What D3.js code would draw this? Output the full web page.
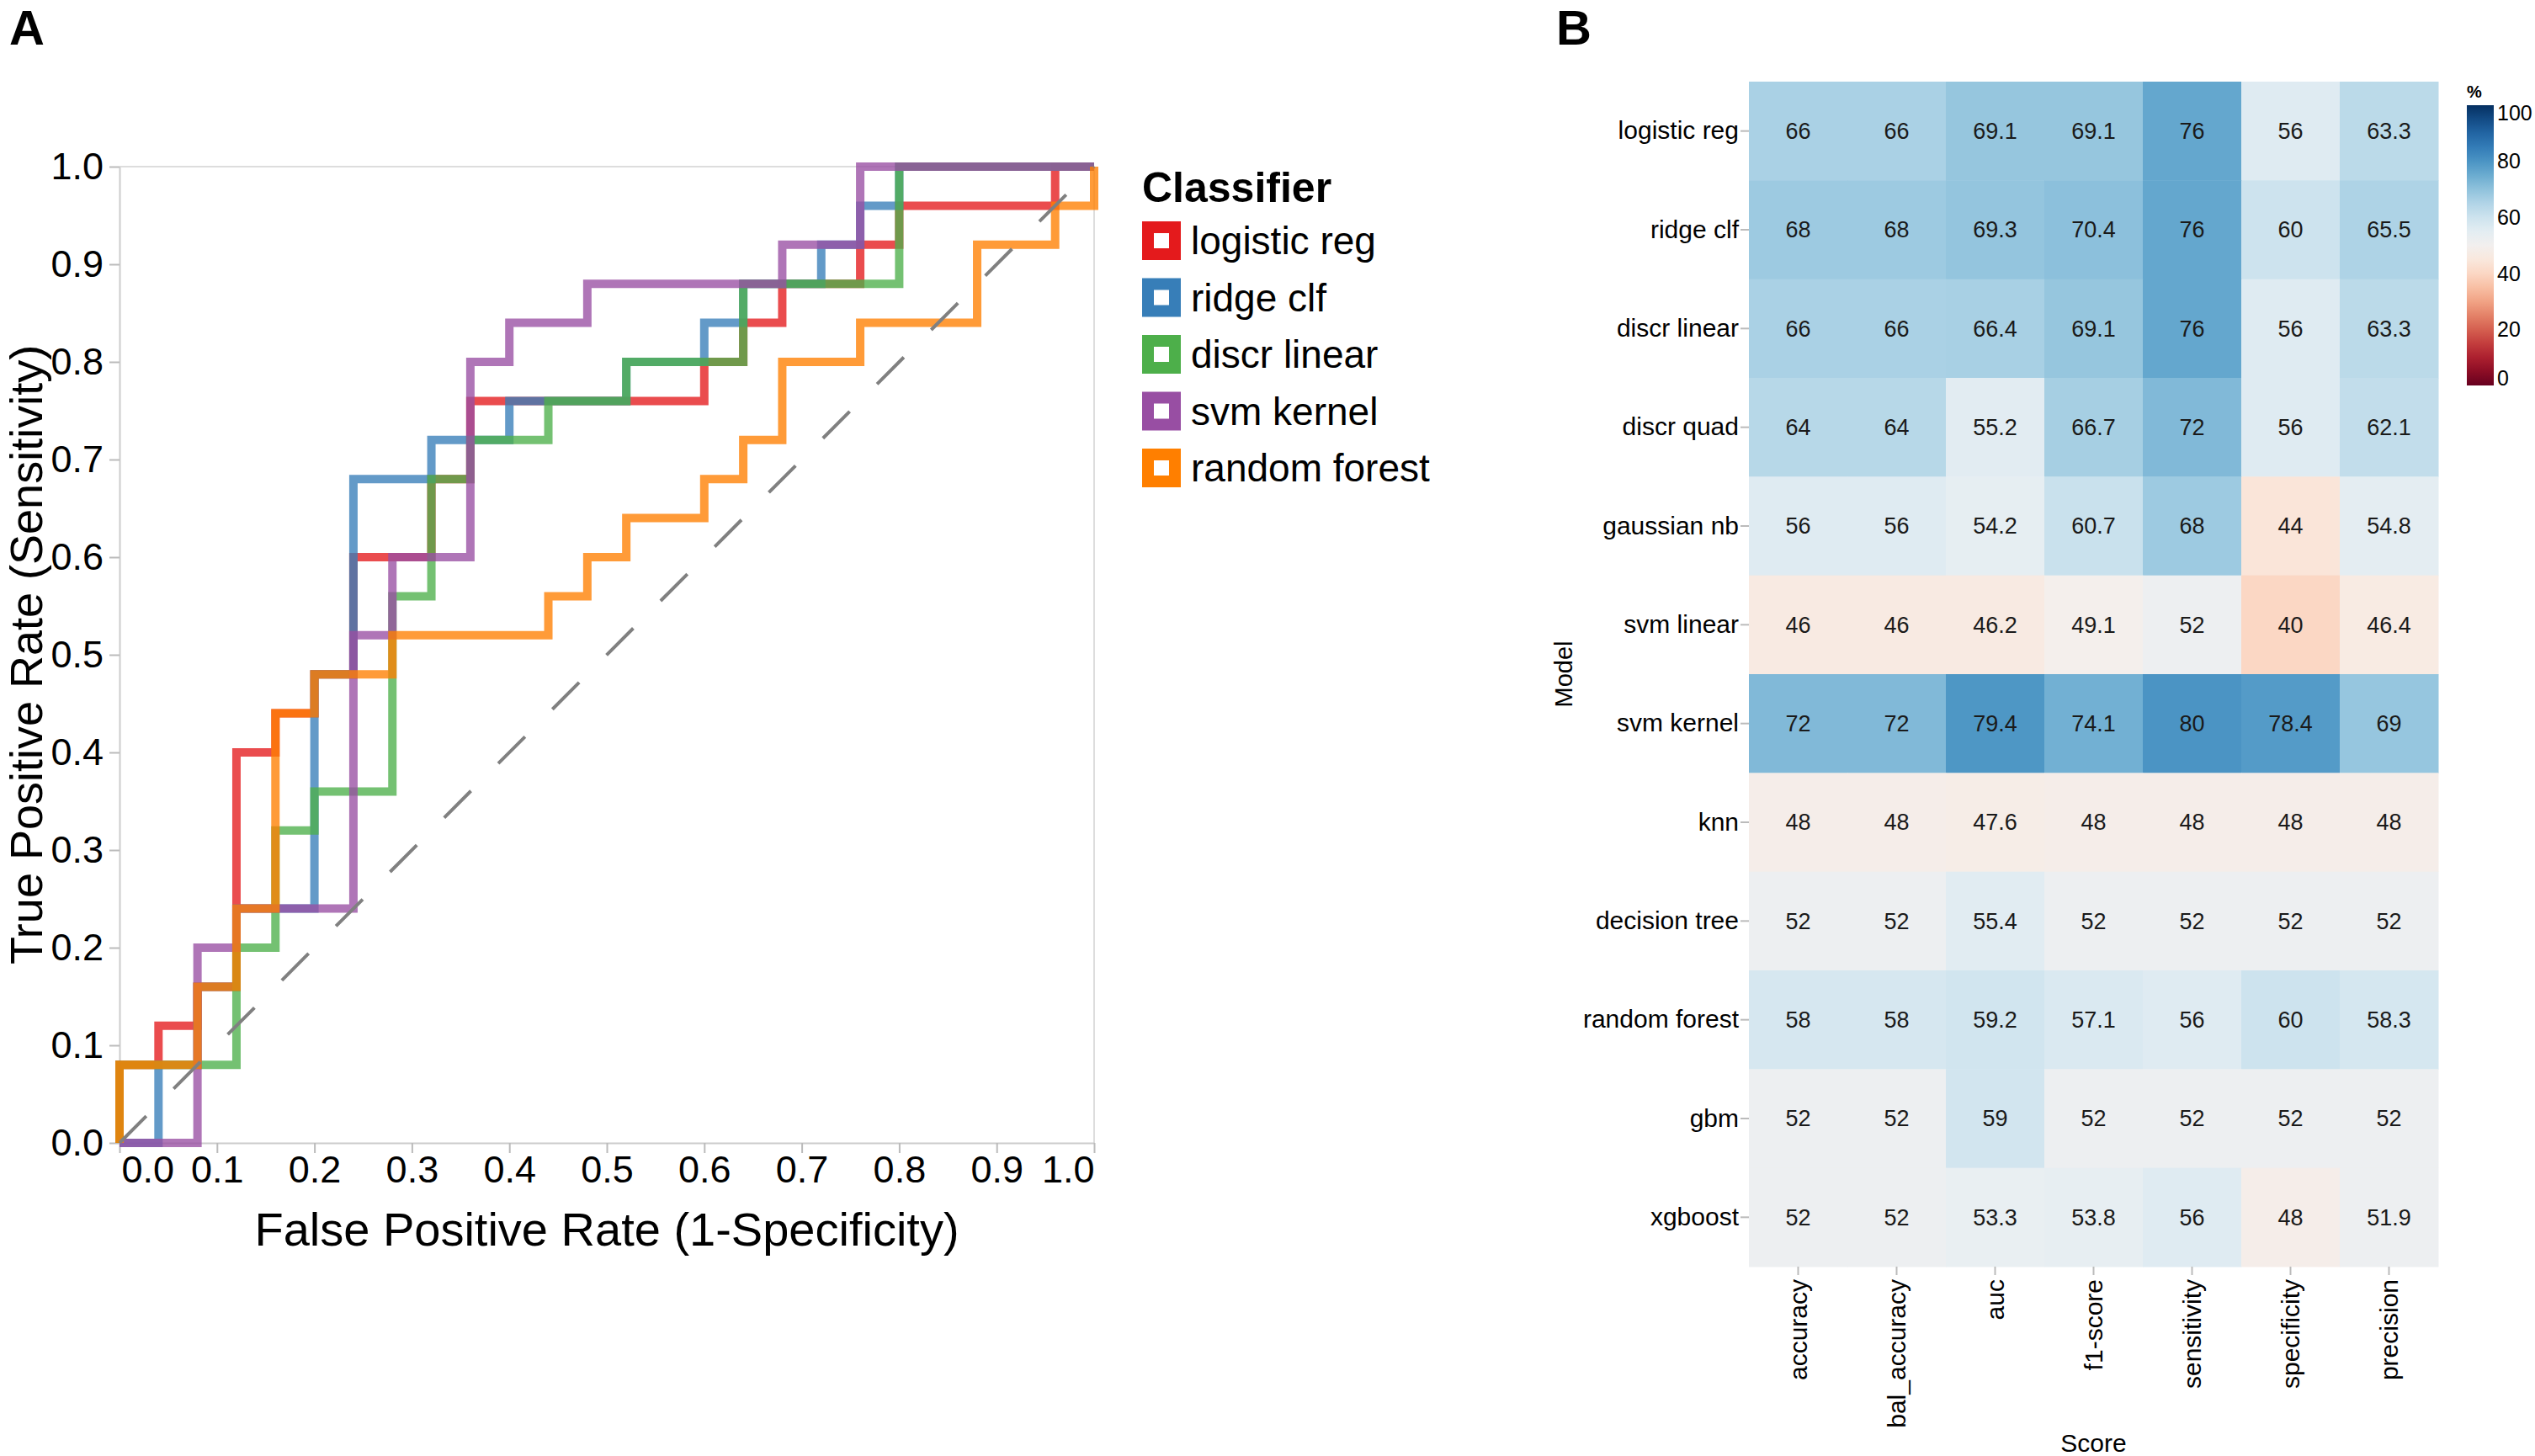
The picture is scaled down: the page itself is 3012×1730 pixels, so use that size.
<!DOCTYPE html>
<html>
<head>
<meta charset="utf-8">
<script src="https://cdn.jsdelivr.net/npm/d3@7"></script>
<style>
  html, body { margin: 0; padding: 0; background: #fff; }
  svg { display: block; font-family: "Liberation Sans", Arial, Helvetica, sans-serif; }
</style>
</head>
<body>
<script>
// ---------------- DATA ----------------
// Panel A: ROC curves (corner points of each step curve)
const classifiers = ["logistic reg", "ridge clf", "discr linear", "svm kernel", "random forest"];
const classifierColors = ["#e41a1c", "#377eb8", "#4daf4a", "#984ea3", "#ff7f00"];

const fprLogisticReg = [0, 0, 0.04, 0.04, 0.08, 0.08, 0.12, 0.12, 0.16, 0.16, 0.20, 0.20, 0.24, 0.24, 0.32, 0.32, 0.36, 0.36, 0.60, 0.60, 0.64, 0.64, 0.68, 0.68, 0.76, 0.76, 0.80, 0.80, 0.96, 0.96, 1.0];
const tprLogisticReg = [0, 0.08, 0.08, 0.12, 0.12, 0.16, 0.16, 0.40, 0.40, 0.44, 0.44, 0.48, 0.48, 0.60, 0.60, 0.68, 0.68, 0.76, 0.76, 0.80, 0.80, 0.84, 0.84, 0.88, 0.88, 0.92, 0.92, 0.96, 0.96, 1.0, 1.0];

const fprRidgeClf = [0, 0.04, 0.04, 0.08, 0.08, 0.12, 0.12, 0.20, 0.20, 0.24, 0.24, 0.32, 0.32, 0.40, 0.40, 0.52, 0.52, 0.60, 0.60, 0.64, 0.64, 0.72, 0.72, 0.76, 0.76, 0.80, 0.80, 1.0];
const tprRidgeClf = [0, 0, 0.08, 0.08, 0.16, 0.16, 0.24, 0.24, 0.48, 0.48, 0.68, 0.68, 0.72, 0.72, 0.76, 0.76, 0.80, 0.80, 0.84, 0.84, 0.88, 0.88, 0.92, 0.92, 0.96, 0.96, 1.0, 1.0];

const fprDiscrLinear = [0, 0, 0.12, 0.12, 0.16, 0.16, 0.20, 0.20, 0.28, 0.28, 0.32, 0.32, 0.36, 0.36, 0.44, 0.44, 0.52, 0.52, 0.64, 0.64, 0.80, 0.80, 1.0];
const tprDiscrLinear = [0, 0.08, 0.08, 0.20, 0.20, 0.32, 0.32, 0.36, 0.36, 0.56, 0.56, 0.68, 0.68, 0.72, 0.72, 0.76, 0.76, 0.80, 0.80, 0.88, 0.88, 1.0, 1.0];

const fprSvmKernel = [0, 0.08, 0.08, 0.12, 0.12, 0.24, 0.24, 0.28, 0.28, 0.36, 0.36, 0.40, 0.40, 0.48, 0.48, 0.68, 0.68, 0.76, 0.76, 1.0];
const tprSvmKernel = [0, 0, 0.20, 0.20, 0.24, 0.24, 0.52, 0.52, 0.60, 0.60, 0.80, 0.80, 0.84, 0.84, 0.88, 0.88, 0.92, 0.92, 1.0, 1.0];

const fprRandomForest = [0, 0, 0.08, 0.08, 0.12, 0.12, 0.16, 0.16, 0.20, 0.20, 0.28, 0.28, 0.44, 0.44, 0.48, 0.48, 0.52, 0.52, 0.60, 0.60, 0.64, 0.64, 0.68, 0.68, 0.76, 0.76, 0.88, 0.88, 0.96, 0.96, 1.0, 1.0];
const tprRandomForest = [0, 0.08, 0.08, 0.16, 0.16, 0.24, 0.24, 0.44, 0.44, 0.48, 0.48, 0.52, 0.52, 0.56, 0.56, 0.60, 0.60, 0.64, 0.64, 0.68, 0.68, 0.72, 0.72, 0.80, 0.80, 0.84, 0.84, 0.92, 0.92, 0.96, 0.96, 1.0];

const rocTicks = [0, 0.1, 0.2, 0.3, 0.4, 0.5, 0.6, 0.7, 0.8, 0.9, 1.0];

// Panel B: heatmap of scores (%)
const models = ["logistic reg", "ridge clf", "discr linear", "discr quad", "gaussian nb", "svm linear",
                "svm kernel", "knn", "decision tree", "random forest", "gbm", "xgboost"];
const scoreNames = ["accuracy", "bal_accuracy", "auc", "f1-score", "sensitivity", "specificity", "precision"];

const scoresLogisticReg  = [66, 66, 69.1, 69.1, 76, 56, 63.3];
const scoresRidgeClf     = [68, 68, 69.3, 70.4, 76, 60, 65.5];
const scoresDiscrLinear  = [66, 66, 66.4, 69.1, 76, 56, 63.3];
const scoresDiscrQuad    = [64, 64, 55.2, 66.7, 72, 56, 62.1];
const scoresGaussianNb   = [56, 56, 54.2, 60.7, 68, 44, 54.8];
const scoresSvmLinear    = [46, 46, 46.2, 49.1, 52, 40, 46.4];
const scoresSvmKernel    = [72, 72, 79.4, 74.1, 80, 78.4, 69];
const scoresKnn          = [48, 48, 47.6, 48, 48, 48, 48];
const scoresDecisionTree = [52, 52, 55.4, 52, 52, 52, 52];
const scoresRandomForest = [58, 58, 59.2, 57.1, 56, 60, 58.3];
const scoresGbm          = [52, 52, 59, 52, 52, 52, 52];
const scoresXgboost      = [52, 52, 53.3, 53.8, 56, 48, 51.9];

const colorbarTicks = [0, 20, 40, 60, 80, 100];

// ---------------- BUILD TABLES ----------------
const rocFpr = [fprLogisticReg, fprRidgeClf, fprDiscrLinear, fprSvmKernel, fprRandomForest];
const rocTpr = [tprLogisticReg, tprRidgeClf, tprDiscrLinear, tprSvmKernel, tprRandomForest];
const rocSeries = classifiers.map((name, i) => ({
  name, color: classifierColors[i],
  points: rocFpr[i].map((f, j) => ({ fpr: f, tpr: rocTpr[i][j] }))
}));

const scoreRows = [scoresLogisticReg, scoresRidgeClf, scoresDiscrLinear, scoresDiscrQuad, scoresGaussianNb,
  scoresSvmLinear, scoresSvmKernel, scoresKnn, scoresDecisionTree, scoresRandomForest, scoresGbm, scoresXgboost];
const cells = [];
models.forEach((m, r) => scoreNames.forEach((s, c) => cells.push({ model: m, score: s, value: scoreRows[r][c] })));

// ---------------- DRAW ----------------
const W = 3012, H = 1730;
const svg = d3.select("body").append("svg").attr("width", W).attr("height", H);
svg.append("rect").attr("width", W).attr("height", H).attr("fill", "#fff");

// Panel letters
svg.append("text").attr("x", 11).attr("y", 53).attr("font-size", 58).attr("font-weight", "bold").text("A");
svg.append("text").attr("x", 1849).attr("y", 53).attr("font-size", 58).attr("font-weight", "bold").text("B");

// ===== Panel A =====
const x = d3.scaleLinear().domain([0, 1]).range([142, 1300]);
const y = d3.scaleLinear().domain([0, 1]).range([1358, 198]);

const gA = svg.append("g");

// view border (top + right)
gA.append("path")
  .attr("d", `M${x(0)},${y(1)}H${x(1)}V${y(0)}`)
  .attr("fill", "none").attr("stroke", "#dddddd").attr("stroke-width", 2);

const xAxis = gA.append("g").attr("transform", `translate(0,${y(0)})`)
  .call(d3.axisBottom(x).tickValues(rocTicks).tickFormat(d3.format(".1f")).tickSize(12).tickSizeOuter(0).tickPadding(3));
const yAxis = gA.append("g").attr("transform", `translate(${x(0)},0)`)
  .call(d3.axisLeft(y).tickValues(rocTicks).tickFormat(d3.format(".1f")).tickSize(12).tickSizeOuter(0).tickPadding(7));

[xAxis, yAxis].forEach(ax => {
  ax.select(".domain").attr("stroke", "#cccccc").attr("stroke-width", 2);
  ax.selectAll(".tick line").attr("stroke", "#bbbbbb").attr("stroke-width", 2);
  ax.selectAll(".tick text").attr("font-size", 45).attr("fill", "#000")
    .attr("font-family", "'Liberation Sans', Arial, sans-serif");
});
// label flush at the x-axis ends
const xTickTexts = xAxis.selectAll(".tick text");
xTickTexts.filter(d => d === rocTicks[0]).attr("text-anchor", "start").attr("x", 2);
xTickTexts.filter(d => d === rocTicks[rocTicks.length - 1]).attr("text-anchor", "end").attr("x", 0);

// ROC lines
const line = d3.line().x(d => x(d.fpr)).y(d => y(d.tpr));
gA.append("g").selectAll("path.roc").data(rocSeries).join("path")
  .attr("class", "roc")
  .attr("d", d => line(d.points))
  .attr("fill", "none")
  .attr("stroke", d => d.color)
  .attr("stroke-width", 10)
  .attr("stroke-opacity", 0.78)
  .attr("stroke-linejoin", "miter");

// chance diagonal
gA.append("path")
  .attr("d", line([{ fpr: 0, tpr: 0 }, { fpr: 1, tpr: 1 }]))
  .attr("fill", "none").attr("stroke", "#808080").attr("stroke-width", 4)
  .attr("stroke-dasharray", "45,46");

// axis titles
gA.append("text").attr("x", (x(0) + x(1)) / 2).attr("y", 1480)
  .attr("text-anchor", "middle").attr("font-size", 56).text("False Positive Rate (1-Specificity)");
gA.append("text").attr("transform", `translate(50,${(y(0) + y(1)) / 2}) rotate(-90)`)
  .attr("text-anchor", "middle").attr("font-size", 54).text("True Positive Rate (Sensitivity)");

// legend
const legend = gA.append("g").attr("transform", "translate(1357,0)");
legend.append("text").attr("x", 0).attr("y", 240).attr("font-size", 50).attr("font-weight", "bold").text("Classifier");
const li = legend.selectAll("g.item").data(rocSeries).join("g").attr("class", "item")
  .attr("transform", (d, i) => `translate(0,${286 + i * 67.5})`);
li.append("rect").attr("x", 7).attr("y", -16).attr("width", 32).attr("height", 32)
  .attr("fill", "#fff").attr("stroke", d => d.color).attr("stroke-width", 14);
li.append("text").attr("x", 58).attr("y", 0).attr("dy", "0.35em").attr("font-size", 46).text(d => d.name);

// ===== Panel B =====
const xb = d3.scaleBand().domain(scoreNames).range([2078, 2897]);
const yb = d3.scaleBand().domain(models).range([97, 1505]);
const color = d3.scaleSequential(d3.interpolateRdBu).domain([0, 100]);

const gB = svg.append("g");
gB.append("g").selectAll("rect").data(cells).join("rect")
  .attr("x", d => xb(d.score)).attr("y", d => yb(d.model))
  .attr("width", xb.bandwidth() + 0.5).attr("height", yb.bandwidth() + 0.5)
  .attr("fill", d => color(d.value));

gB.append("g").selectAll("text").data(cells).join("text")
  .attr("x", d => xb(d.score) + xb.bandwidth() / 2)
  .attr("y", d => yb(d.model) + yb.bandwidth() / 2)
  .attr("dy", "0.35em").attr("text-anchor", "middle")
  .attr("font-size", 27).attr("fill", "#1a1a1a")
  .text(d => d3.format("~f")(d.value));

const rowAxis = gB.append("g").attr("transform", `translate(${xb.range()[0]},0)`)
  .call(d3.axisLeft(yb).tickSize(10).tickSizeOuter(0).tickPadding(2));
const colAxis = gB.append("g").attr("transform", `translate(0,${yb.range()[1]})`)
  .call(d3.axisBottom(xb).tickSize(10).tickSizeOuter(0));
[rowAxis, colAxis].forEach(ax => {
  ax.select(".domain").remove();
  ax.selectAll(".tick line").attr("stroke", "#bbbbbb").attr("stroke-width", 2);
  ax.selectAll(".tick text").attr("font-size", 30).attr("fill", "#000")
    .attr("font-family", "'Liberation Sans', Arial, sans-serif");
});
colAxis.selectAll(".tick text")
  .attr("transform", "rotate(-90)").attr("x", -15).attr("y", 0).attr("dy", "0.35em")
  .attr("text-anchor", "end");

gB.append("text").attr("transform", `translate(1858,${(yb.range()[0] + yb.range()[1]) / 2}) rotate(-90)`)
  .attr("text-anchor", "middle").attr("dy", "0.35em").attr("font-size", 29).text("Model");
gB.append("text").attr("x", (xb.range()[0] + xb.range()[1]) / 2).attr("y", 1725)
  .attr("text-anchor", "middle").attr("font-size", 30).text("Score");

// colour bar
const cb = d3.scaleLinear().domain([0, 100]).range([458, 125]);
const grad = svg.append("defs").append("linearGradient").attr("id", "cbgrad")
  .attr("x1", 0).attr("y1", 1).attr("x2", 0).attr("y2", 0);
d3.range(0, 101, 5).forEach(v => grad.append("stop").attr("offset", v / 100).attr("stop-color", color(v)));
gB.append("rect").attr("x", 2931).attr("y", cb(100)).attr("width", 32).attr("height", cb(0) - cb(100))
  .attr("fill", "url(#cbgrad)");
gB.append("g").selectAll("text").data(colorbarTicks).join("text")
  .attr("x", 2967).attr("y", d => cb(d))
  .attr("dy", d => d === 100 ? "0.72em" : (d === 0 ? "0em" : "0.35em"))
  .attr("font-size", 25).text(d => d);
gB.append("text").attr("x", 2931).attr("y", 116).attr("font-size", 20).attr("font-weight", "bold").text("%");
</script>
</body>
</html>
